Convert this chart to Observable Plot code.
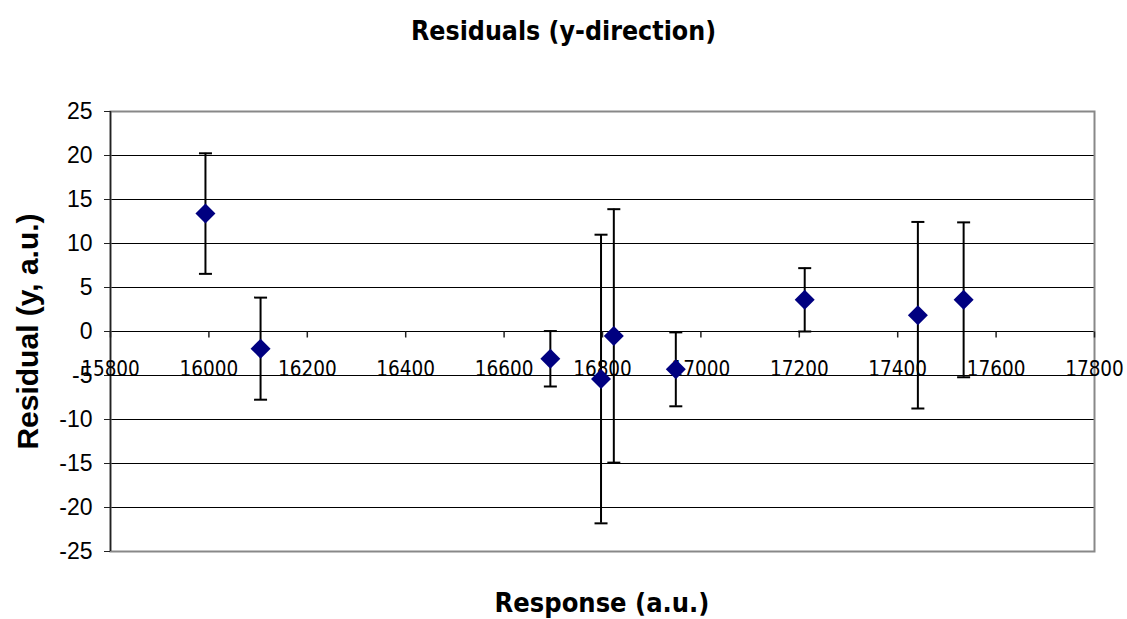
<!DOCTYPE html>
<html>
<head>
<meta charset="utf-8">
<script src="https://cdn.jsdelivr.net/npm/d3@7"></script>
<script src="https://cdn.jsdelivr.net/npm/@observablehq/plot@0.6"></script>
<style>
  html, body { margin: 0; padding: 0; background: #fff; }
  #wrap { width: 1127px; height: 619px; position: relative; overflow: hidden; }
  #title { height: 64px; line-height: 62px; text-align: center; font-family: "DejaVu Sans Condensed", "DejaVu Sans", sans-serif; font-weight: bold; font-size: 26.5px; color: #000; }
  #xlabel { position: absolute; left: 110px; width: 984px; top: 585px; height: 36px; line-height: 36px; text-align: center; font-family: "DejaVu Sans Condensed", "DejaVu Sans", sans-serif; font-weight: bold; font-size: 27px; color: #000; }
  #chart svg { display: block; }
</style>
</head>
<body>
<div id="wrap">
  <div id="title">Residuals (y-direction)</div>
  <div id="chart"></div>
  <div id="xlabel">Response (a.u.)</div>
</div>
<script>
// Data
const responses = [15993, 16105, 16694, 16797, 16823, 16949, 17211, 17441, 17534];
const residuals = [13.4, -1.95, -3.1, -5.4, -0.5, -4.3, 3.6, 1.85, 3.6];
const errors    = [6.85, 5.8, 3.15, 16.4, 14.4, 4.2, 3.6, 10.6, 8.8];

const xTicks = [15800, 16000, 16200, 16400, 16600, 16800, 17000, 17200, 17400, 17600, 17800];
const yTicks = [-25, -20, -15, -10, -5, 0, 5, 10, 15, 20, 25];
const yLabel = "Residual (y, a.u.)";

const rows = responses.map((x, i) => ({
  x, y: residuals[i], lo: residuals[i] - errors[i], hi: residuals[i] + errors[i]
}));

// custom symbols
const capSymbol = { draw(ctx) { ctx.moveTo(-6.5, 0); ctx.lineTo(6.5, 0); } };
const tickDown  = { draw(ctx) { ctx.moveTo(0, 0); ctx.lineTo(0, 6); } };

const tickFont = "'DejaVu Sans Condensed', 'DejaVu Sans', sans-serif";
const yFont = "'Liberation Sans', Arial, sans-serif";

const chart = Plot.plot({
  width: 1127,
  height: 521,
  marginTop: 47,
  marginBottom: 34,
  marginLeft: 110,
  marginRight: 33,
  style: { background: "#fff", color: "#000" },
  x: { domain: [15800, 17800], axis: null },
  y: { domain: [-25, 25], axis: null },
  marks: [
    Plot.ruleY(yTicks.filter(v => v > -25 && v < 25), { stroke: "#000", strokeWidth: 1 }),
    Plot.frame({ stroke: "#888", strokeWidth: 2 }),
    Plot.ruleX([15800], { stroke: "#222", strokeWidth: 1.5 }),
    Plot.axisY(yTicks, { tickSize: 6, tickPadding: 12, fontSize: 23, fontFamily: yFont, label: null, stroke: "#222", color: "#000", tickFormat: d => String(d) }),
    Plot.dot(xTicks, { x: d => d, y: 0, symbol: tickDown, stroke: "#222", strokeWidth: 1.5, fill: "none" }),
    Plot.text(xTicks, { x: d => d, y: 0, text: d => String(d), dy: 38, fontSize: 20.5, fontFamily: tickFont, fill: "#000" }),
    Plot.text([yLabel], { frameAnchor: "left", textAnchor: "middle", rotate: -90, dx: -82, fontSize: 30, fontWeight: "bold", fontFamily: yFont, fill: "#000" }),
    Plot.ruleX(rows, { x: "x", y1: "lo", y2: "hi", stroke: "#000", strokeWidth: 2 }),
    Plot.dot(rows, { x: "x", y: "hi", symbol: capSymbol, stroke: "#000", strokeWidth: 2, fill: "none" }),
    Plot.dot(rows, { x: "x", y: "lo", symbol: capSymbol, stroke: "#000", strokeWidth: 2, fill: "none" }),
    Plot.dot(rows, { x: "x", y: "y", symbol: "diamond2", r: 9, fill: "#000080", stroke: "none" })
  ]
});
document.getElementById("chart").appendChild(chart);
</script>
</body>
</html>
